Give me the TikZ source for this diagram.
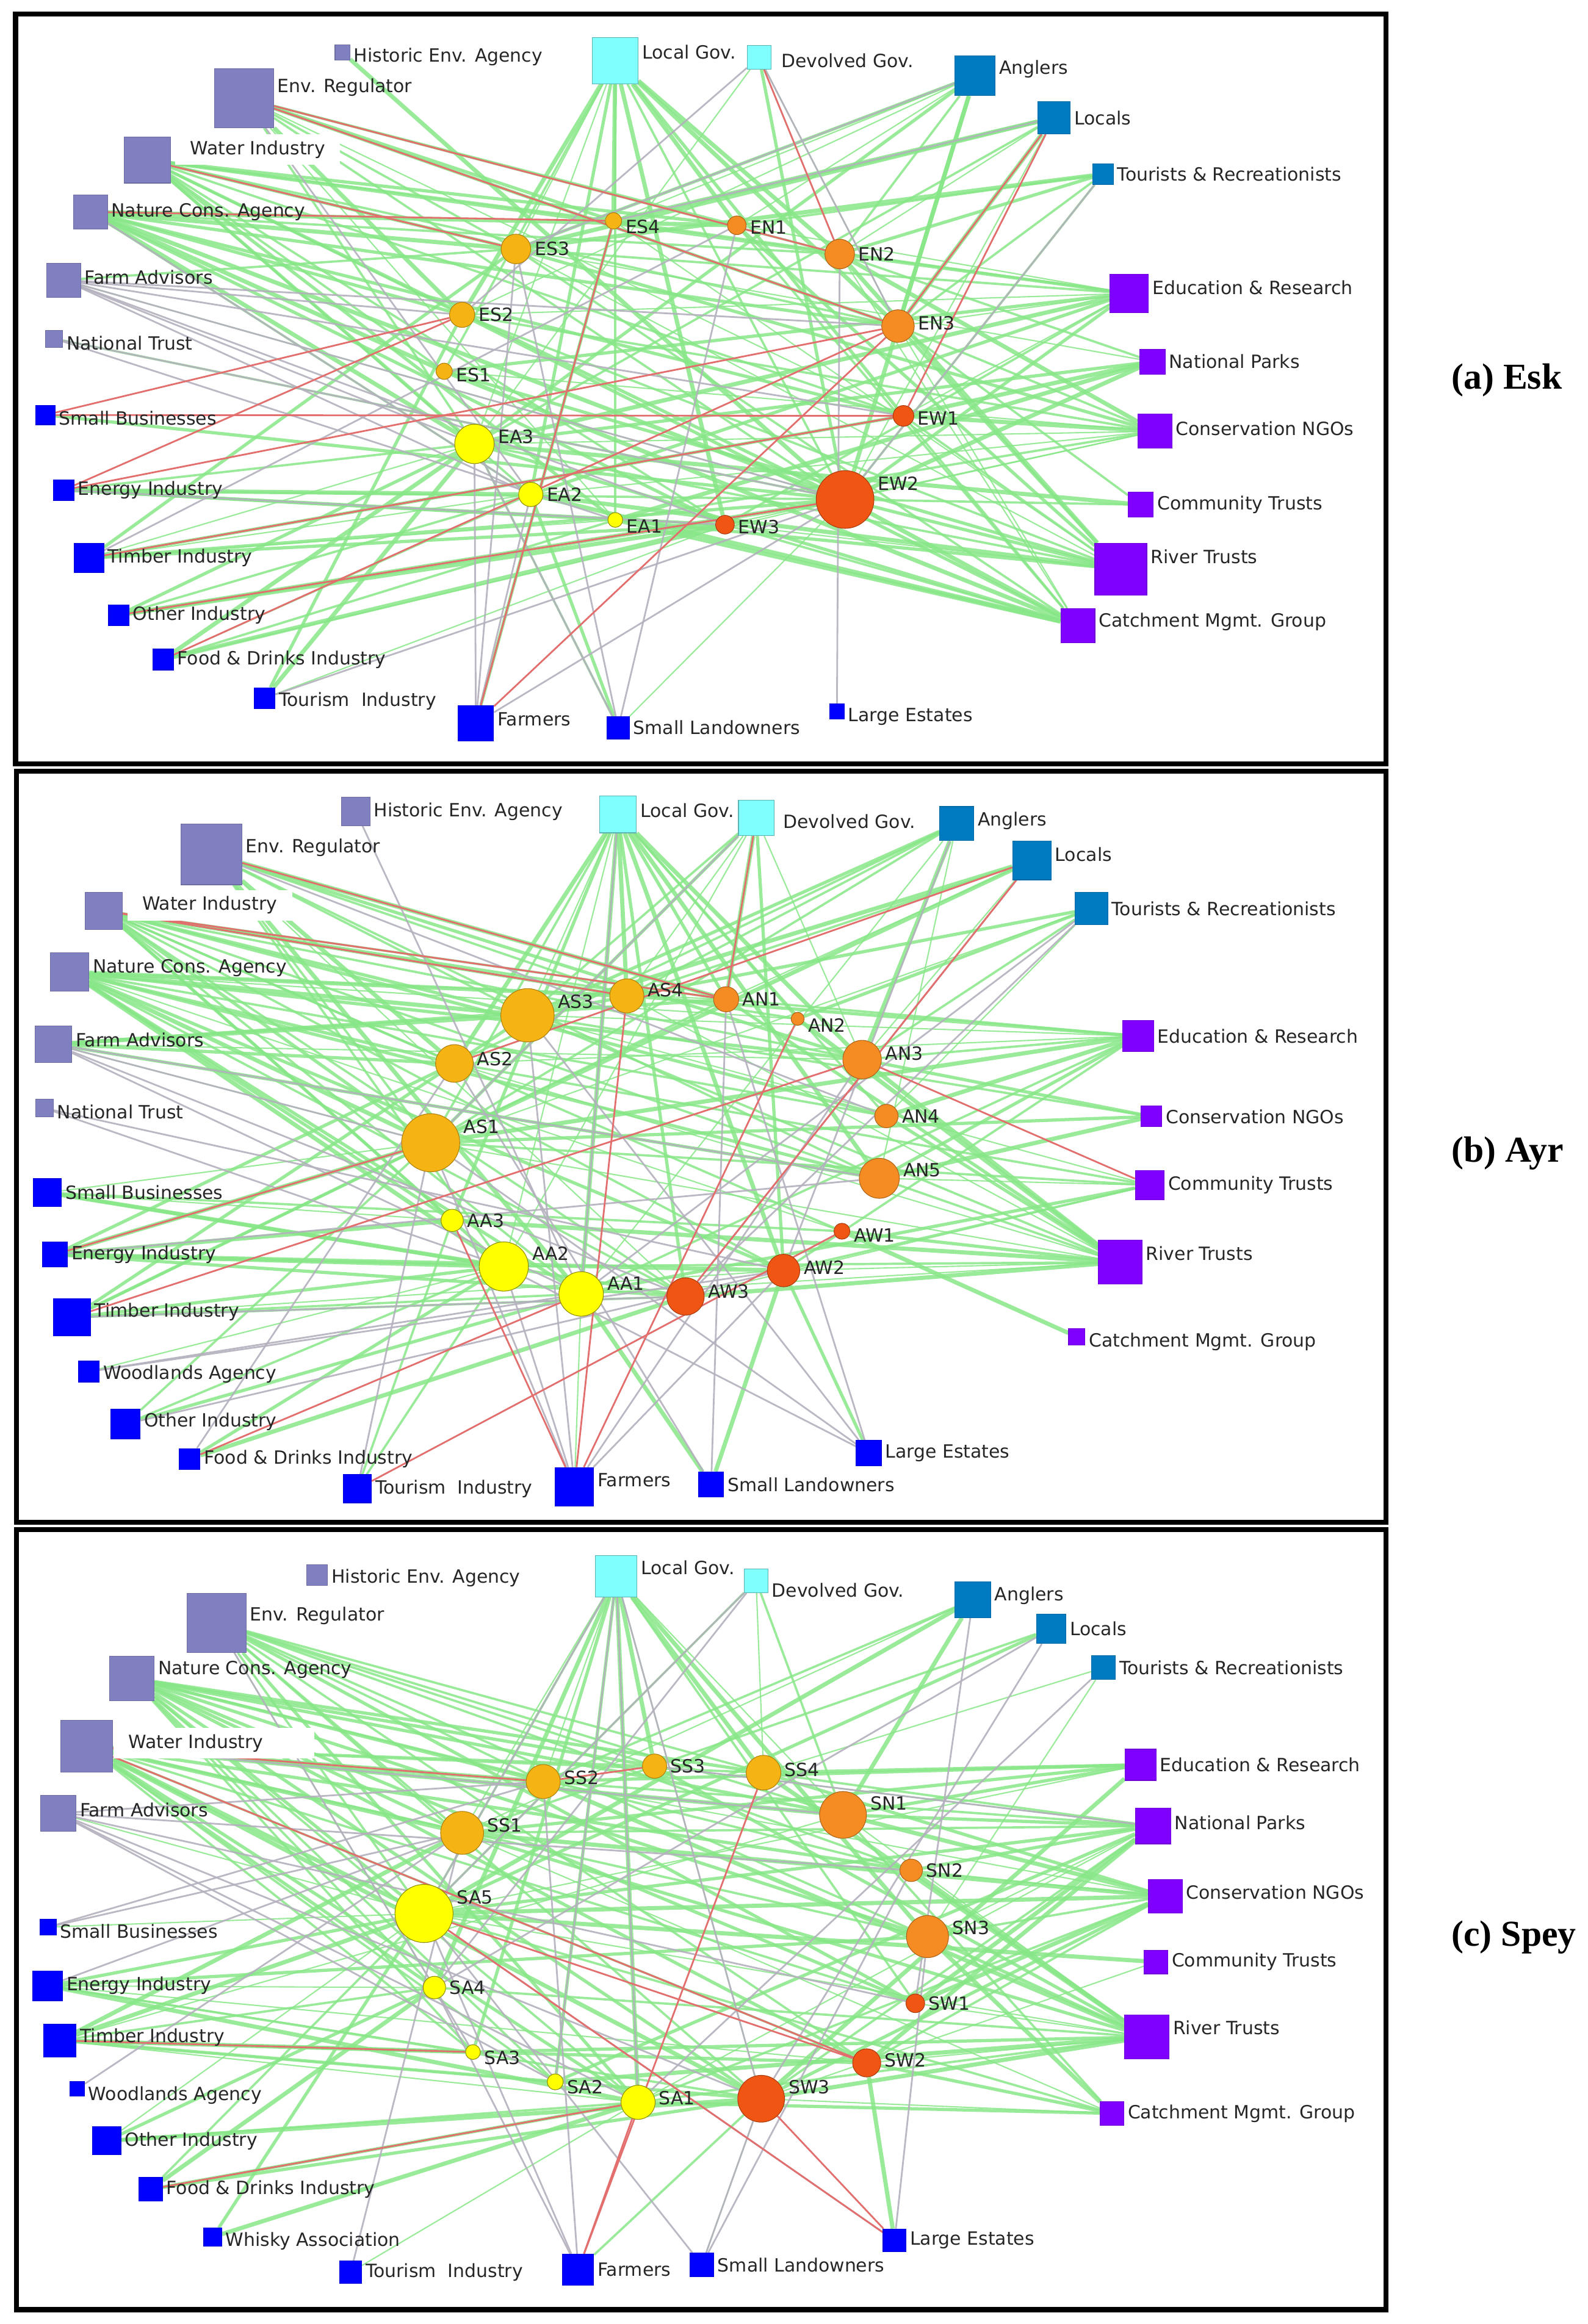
\documentclass[tikz,border=0pt]{standalone}
\usepackage{fontspec}
\setmainfont{Liberation Serif}
\newfontfamily\labelfont{DejaVu Sans}
\usetikzlibrary{backgrounds}
\definecolor{lavc}{RGB}{128,128,192}
\definecolor{bluc}{RGB}{0,0,255}
\definecolor{cync}{RGB}{128,255,255}
\definecolor{stlc}{RGB}{0,122,192}
\definecolor{purc}{RGB}{128,0,255}
\definecolor{ambc}{RGB}{246,180,20}
\definecolor{orgc}{RGB}{245,140,35}
\definecolor{redc}{RGB}{240,85,20}
\definecolor{yelc}{RGB}{255,255,0}
\definecolor{grnc}{RGB}{135,230,135}
\definecolor{gryc}{RGB}{180,176,190}
\definecolor{rdc}{RGB}{226,110,110}
\tikzset{
  sq/.style={rectangle,inner sep=0pt,minimum size=#1*0.24286mm,line width=0.3pt},
  tp/.style={circle,inner sep=0pt,minimum size=#1*0.48572mm,line width=0.3pt},
  lav/.style={fill=lavc,draw=lavc!85!black},
  blu/.style={fill=bluc,draw=bluc!85!black},
  cyn/.style={fill=cync,draw=cync!70!black},
  stl/.style={fill=stlc,draw=stlc!85!black},
  pur/.style={fill=purc,draw=purc!85!black},
  sS/.style={fill=ambc,draw=ambc!70!black},
  sN/.style={fill=orgc,draw=orgc!70!black},
  sW/.style={fill=redc,draw=redc!70!black},
  sA/.style={fill=yelc,draw=yelc!55!black},
  lbl/.style={font=\labelfont\fontsize{8.5}{10}\selectfont,inner sep=1.5pt,text=black!85},
  wlbl/.style={lbl,fill=white,inner xsep=7pt,inner ysep=3pt},
  panel/.style={font=\fontsize{17}{20}\selectfont\bfseries,anchor=west},
  frame/.style={draw=black,line width=2.3pt},
  poslink/.style={draw=grnc,opacity=0.85},
  neulink/.style={draw=gryc,line width=0.8pt,opacity=0.9},
  neglink/.style={draw=rdc,line width=0.8pt}
}
\begin{document}
\begin{tikzpicture}[x=0.24286mm,y=-0.24286mm]
\useasboundingbox (0,0) rectangle (1071,1568);

% frames
\draw[frame] (10.5,9.4) rectangle (934.7,515.4);
\draw[frame] (11.3,520.2) rectangle (934.7,1026.9);
\draw[frame] (11.3,1032.1) rectangle (934.7,1558.3);
\node[panel] (lblA) at (974,256.5) {(a) Esk};
\node[panel] (lblB) at (974,778) {(b) Ayr};
\node[panel] (lblC) at (974,1307) {(c) Spey};

% (a) Esk
\node[sq=10,lav,label={[lbl,yshift=-2pt]right:Historic Env. Agency}] (aHist) at (231,35.4) {};
\node[sq=31,cyn,label={[lbl,yshift=4pt]right:Local Gov.}] (aLocGov) at (415,41) {};
\node[sq=16,cyn,label={[lbl,xshift=3pt,yshift=-1.5pt]right:Devolved Gov.}] (aDevGov) at (512,38.7) {};
\node[sq=27,stl,label={[lbl,yshift=3pt]right:Anglers}] (aAnglers) at (657.7,51) {};
\node[sq=22,stl,label={[lbl]right:Locals}] (aLocals) at (711,79.4) {};
\node[sq=14,stl,label={[lbl]right:Tourists \& Recreationists}] (aTourists) at (744,117.5) {};
\node[sq=40,lav,label={[lbl,yshift=5pt]right:Env. Regulator}] (aEnvReg) at (164.6,66.2) {};
\node[sq=31,lav,label={[wlbl,xshift=2pt,yshift=5pt]right:Water Industry}] (aWater) at (99.4,108) {};
\node[sq=23,lav,label={[lbl]right:Nature Cons. Agency}] (aNature) at (61,143) {};
\node[sq=23,lav,label={[lbl,yshift=1.4pt]right:Farm Advisors}] (aFarmAdv) at (43,189) {};
\node[sq=11.5,lav,label={[lbl,yshift=-2pt]right:National Trust}] (aNatTrust) at (36.5,228.5) {};
\node[sq=13,blu,label={[lbl,yshift=-1.4pt]right:Small Businesses}] (aSmallBus) at (30.6,280) {};
\node[sq=14,blu,label={[lbl]right:Energy Industry}] (aEnergy) at (43,330.6) {};
\node[sq=20,blu,label={[lbl]right:Timber Industry}] (aTimber) at (60,376.5) {};
\node[sq=14,blu,label={[lbl]right:Other Industry}] (aOtherInd) at (80,415) {};
\node[sq=14,blu,label={[lbl]right:Food \& Drinks Industry}] (aFood) at (110,445) {};
\node[sq=14,blu,label={[lbl,yshift=-1.4pt]right:Tourism\ \ Industry}] (aTourInd) at (178.6,471) {};
\node[sq=24,blu,label={[lbl,yshift=2pt]right:Farmers}] (aFarmers) at (321,488) {};
\node[sq=15,blu,label={[lbl]right:Small Landowners}] (aSmallLand) at (417,491) {};
\node[sq=10,blu,label={[lbl,yshift=-2.6pt]right:Large Estates}] (aLargeEst) at (564.5,480) {};
\node[sq=26,pur,label={[lbl,yshift=2.8pt]right:Education \& Research}] (aEduRes) at (761.7,198) {};
\node[sq=17,pur,label={[lbl]right:National Parks}] (aNatParks) at (777.4,244) {};
\node[sq=23,pur,label={[lbl,yshift=1.4pt]right:Conservation NGOs}] (aConsNGO) at (779,291) {};
\node[sq=17,pur,label={[lbl]right:Community Trusts}] (aCommTr) at (769.5,340.5) {};
\node[sq=35,pur,label={[lbl,yshift=5.7pt]right:River Trusts}] (aRivTr) at (756,384) {};
\node[sq=23,pur,label={[lbl,yshift=1.7pt]right:Catchment Mgmt. Group}] (aCatch) at (727,422) {};

\node[tp=5.5,sS,label={[lbl,yshift=-2.8pt]right:ES4}] (ES4) at (413.8,149) {};
\node[tp=10,sS,label={[lbl]right:ES3}] (ES3) at (348,168) {};
\node[tp=8.5,sS,label={[lbl]right:ES2}] (ES2) at (311.7,212.4) {};
\node[tp=5.5,sS,label={[lbl,yshift=-1.7pt]right:ES1}] (ES1) at (299.6,250.5) {};
\node[tp=13.3,sA,label={[lbl,yshift=3.4pt]right:EA3}] (EA3) at (320,299.5) {};
\node[tp=8.2,sA,label={[lbl]right:EA2}] (EA2) at (358,333.6) {};
\node[tp=5,sA,label={[lbl,yshift=-3pt]right:EA1}] (EA1) at (415,350.8) {};
\node[tp=6.3,sN,label={[lbl,yshift=-1pt]right:EN1}] (EN1) at (497,152) {};
\node[tp=10,sN,label={[lbl]right:EN2}] (EN2) at (566.4,171.4) {};
\node[tp=11,sN,label={[lbl,yshift=1.5pt]right:EN3}] (EN3) at (605.7,220) {};
\node[tp=7,sW,label={[lbl,yshift=-1pt]right:EW1}] (EW1) at (609.4,280.6) {};
\node[tp=19.5,sW,label={[lbl,yshift=7.6pt]right:EW2}] (EW2) at (570,337) {};
\node[tp=6.3,sW,label={[lbl,yshift=-1pt]right:EW3}] (EW3) at (489,354) {};

% (b) Ayr
\node[sq=19,lav,label={[lbl]right:Historic Env. Agency}] (bHist) at (240,547.5) {};
\node[sq=25,cyn,label={[lbl,yshift=1.8pt]right:Local Gov.}] (bLocGov) at (416.8,549.4) {};
\node[sq=24,cyn,label={[lbl,xshift=2.5pt,yshift=-1.8pt]right:Devolved Gov.}] (bDevGov) at (510.1,551.8) {};
\node[sq=23,stl,label={[lbl,yshift=1.4pt]right:Anglers}] (bAnglers) at (645.3,555.7) {};
\node[sq=26,stl,label={[lbl,yshift=3pt]right:Locals}] (bLocals) at (696,580.6) {};
\node[sq=22,stl,label={[lbl]right:Tourists \& Recreationists}] (bTourists) at (736.2,613) {};
\node[sq=41,lav,label={[lbl,yshift=3pt]right:Env. Regulator}] (bEnvReg) at (142.7,576.4) {};
\node[sq=25,lav,label={[wlbl,xshift=2pt,yshift=2.6pt]right:Water Industry}] (bWater) at (70,614.5) {};
\node[sq=26,lav,label={[lbl,yshift=1.9pt]right:Nature Cons. Agency}] (bNature) at (47,655.8) {};
\node[sq=25,lav,label={[lbl,yshift=1.9pt]right:Farm Advisors}] (bFarmAdv) at (36,704.5) {};
\node[sq=12,lav,label={[lbl,yshift=-1.8pt]right:National Trust}] (bNatTrust) at (30,747.7) {};
\node[sq=19,blu,label={[lbl]right:Small Businesses}] (bSmallBus) at (32,804.7) {};
\node[sq=17,blu,label={[lbl]right:Energy Industry}] (bEnergy) at (37,846.4) {};
\node[sq=25,blu,label={[lbl,yshift=2.4pt]right:Timber Industry}] (bTimber) at (48.6,888.8) {};
\node[sq=14,blu,label={[lbl,yshift=-1.3pt]right:Woodlands Agency}] (bWood) at (60,925.4) {};
\node[sq=20,blu,label={[lbl,yshift=1.2pt]right:Other Industry}] (bOtherInd) at (84.6,960.8) {};
\node[sq=14,blu,label={[lbl]right:Food \& Drinks Industry}] (bFood) at (128,984.3) {};
\node[sq=19,blu,label={[lbl]right:Tourism\ \ Industry}] (bTourInd) at (241,1004.4) {};
\node[sq=26,blu,label={[lbl,yshift=3.2pt]right:Farmers}] (bFarmers) at (387.5,1003.1) {};
\node[sq=17,blu,label={[lbl]right:Small Landowners}] (bSmallLand) at (479.7,1001.5) {};
\node[sq=17,blu,label={[lbl]right:Large Estates}] (bLargeEst) at (586,980.3) {};
\node[sq=21,pur,label={[lbl]right:Education \& Research}] (bEduRes) at (767.7,699) {};
\node[sq=14,pur,label={[lbl]right:Conservation NGOs}] (bConsNGO) at (776.7,753.3) {};
\node[sq=19.5,pur,label={[lbl]right:Community Trusts}] (bCommTr) at (775.5,799.6) {};
\node[sq=29.5,pur,label={[lbl,yshift=4.1pt]right:River Trusts}] (bRivTr) at (755.6,851.6) {};
\node[sq=11,pur,label={[lbl,yshift=-2.3pt]right:Catchment Mgmt. Group}] (bCatch) at (726.3,901.9) {};

\node[tp=18,sS,label={[lbl,yshift=6.3pt]right:AS3}] (AS3) at (355.8,685) {};
\node[tp=11.5,sS,label={[lbl,yshift=2.8pt]right:AS4}] (AS4) at (422.8,671.9) {};
\node[tp=12.7,sS,label={[lbl,yshift=2pt]right:AS2}] (AS2) at (306.5,717.5) {};
\node[tp=19.6,sS,label={[lbl,yshift=7.5pt]right:AS1}] (AS1) at (290.5,771) {};
\node[tp=7.5,sA,label={[lbl]right:AA3}] (AA3) at (305,823.4) {};
\node[tp=16.6,sA,label={[lbl,yshift=6pt]right:AA2}] (AA2) at (339.8,854.5) {};
\node[tp=15,sA,label={[lbl,yshift=5pt]right:AA1}] (AA1) at (392,873) {};
\node[tp=8.5,sN,label={[lbl]right:AN1}] (AN1) at (489.8,674.2) {};
\node[tp=4.4,sN,label={[lbl,yshift=-3pt]right:AN2}] (AN2) at (538,687.4) {};
\node[tp=13,sN,label={[lbl,yshift=2.8pt]right:AN3}] (AN3) at (581.5,714.9) {};
\node[tp=7.9,sN,label={[lbl]right:AN4}] (AN4) at (597.9,753) {};
\node[tp=13.5,sN,label={[lbl,yshift=3.9pt]right:AN5}] (AN5) at (593.1,795) {};
\node[tp=5.4,sW,label={[lbl,yshift=-1.9pt]right:AW1}] (AW1) at (567.9,830.7) {};
\node[tp=11,sW,label={[lbl,yshift=1.5pt]right:AW2}] (AW2) at (528.5,857.2) {};
\node[tp=12.6,sW,label={[lbl,yshift=2.3pt]right:AW3}] (AW3) at (462.4,874.7) {};

% (c) Spey
\node[sq=14,lav,label={[lbl,yshift=-1.2pt]right:Historic Env. Agency}] (cHist) at (214,1062.7) {};
\node[sq=28,cyn,label={[lbl,yshift=4pt]right:Local Gov.}] (cLocGov) at (415.7,1063.4) {};
\node[sq=16,cyn,label={[lbl,yshift=-4.5pt]right:Devolved Gov.}] (cDevGov) at (510,1066.5) {};
\node[sq=24,stl,label={[lbl,yshift=1.9pt]right:Anglers}] (cAnglers) at (656.2,1079.3) {};
\node[sq=20,stl,label={[lbl]right:Locals}] (cLocals) at (709,1098.9) {};
\node[sq=16,stl,label={[lbl]right:Tourists \& Recreationists}] (cTourists) at (744.4,1125.2) {};
\node[sq=40,lav,label={[lbl,yshift=3.4pt]right:Env. Regulator}] (cEnvReg) at (146,1094.9) {};
\node[sq=30,lav,label={[lbl,yshift=4pt]right:Nature Cons. Agency}] (cNature) at (89,1132.3) {};
\node[sq=35,lav,label={[wlbl,yshift=1.4pt,text width=2.8cm]right:Water Industry}] (cWater) at (58.5,1178.1) {};
\node[sq=24,lav,label={[lbl,yshift=1.6pt]right:Farm Advisors}] (cFarmAdv) at (39.3,1223.4) {};
\node[sq=11,blu,label={[lbl,yshift=-2pt]right:Small Businesses}] (cSmallBus) at (32.4,1300.2) {};
\node[sq=20,blu,label={[lbl]right:Energy Industry}] (cEnergy) at (32.2,1339.8) {};
\node[sq=22,blu,label={[lbl,yshift=1.5pt]right:Timber Industry}] (cTimber) at (40.4,1376.7) {};
\node[sq=10,blu,label={[lbl,yshift=-3pt]right:Woodlands Agency}] (cWood) at (52,1409.4) {};
\node[sq=19,blu,label={[lbl]right:Other Industry}] (cOtherInd) at (72,1444.4) {};
\node[sq=16,blu,label={[lbl]right:Food \& Drinks Industry}] (cFood) at (101.6,1477) {};
\node[sq=12,blu,label={[lbl,yshift=-1.9pt]right:Whisky Association}] (cWhisky) at (143.5,1509.3) {};
\node[sq=15,blu,label={[lbl]right:Tourism\ \ Industry}] (cTourInd) at (236.5,1533) {};
\node[sq=21,blu,label={[lbl]right:Farmers}] (cFarmers) at (390,1531.3) {};
\node[sq=16,blu,label={[lbl]right:Small Landowners}] (cSmallLand) at (473.4,1528) {};
\node[sq=15.5,blu,label={[lbl]right:Large Estates}] (cLargeEst) at (603.4,1511.6) {};
\node[sq=21,pur,label={[lbl]right:Education \& Research}] (cEduRes) at (769.2,1190.7) {};
\node[sq=24,pur,label={[lbl,yshift=1.6pt]right:National Parks}] (cNatParks) at (777.7,1232) {};
\node[sq=23,pur,label={[lbl,yshift=2pt]right:Conservation NGOs}] (cConsNGO) at (785.9,1279.4) {};
\node[sq=16,pur,label={[lbl]right:Community Trusts}] (cCommTr) at (779.7,1323.7) {};
\node[sq=30,pur,label={[lbl,yshift=4.2pt]right:River Trusts}] (cRivTr) at (773.6,1374.3) {};
\node[sq=16,pur,label={[lbl]right:Catchment Mgmt. Group}] (cCatch) at (750.1,1425.9) {};

\node[tp=11.5,sS,label={[lbl,yshift=1.7pt]right:SS2}] (SS2) at (366.4,1202) {};
\node[tp=8.2,sS,label={[lbl]right:SS3}] (SS3) at (441.5,1191.6) {};
\node[tp=11.7,sS,label={[lbl,yshift=1.4pt]right:SS4}] (SS4) at (515,1196) {};
\node[tp=14.5,sS,label={[lbl,yshift=3.6pt]right:SS1}] (SS1) at (311.7,1236.6) {};
\node[tp=19.6,sA,label={[lbl,yshift=7.6pt]right:SA5}] (SA5) at (286,1291) {};
\node[tp=7.6,sA,label={[lbl]right:SA4}] (SA4) at (293,1341) {};
\node[tp=5,sA,label={[lbl,yshift=-2.6pt]right:SA3}] (SA3) at (319,1384.5) {};
\node[tp=5.4,sA,label={[lbl,yshift=-2.3pt]right:SA2}] (SA2) at (374.5,1404.6) {};
\node[tp=11.5,sA,label={[lbl,yshift=1.9pt]right:SA1}] (SA1) at (430.4,1418.4) {};
\node[tp=15.8,sN,label={[lbl,yshift=5.3pt]right:SN1}] (SN1) at (568.6,1224.5) {};
\node[tp=7.6,sN,label={[lbl]right:SN2}] (SN2) at (614.6,1261.9) {};
\node[tp=14.2,sN,label={[lbl,yshift=4pt]right:SN3}] (SN3) at (625.6,1306.6) {};
\node[tp=6.3,sW,label={[lbl]right:SW1}] (SW1) at (617.4,1351.6) {};
\node[tp=9.5,sW,label={[lbl,yshift=1.2pt]right:SW2}] (SW2) at (584.6,1391.8) {};
\node[tp=15.8,sW,label={[lbl,yshift=5.5pt]right:SW3}] (SW3) at (513.4,1416) {};

% ties
\begin{scope}[on background layer]
\foreach \tp/\lst in {
  EW2/{aEnvReg,aWater,aNature,aFarmAdv,aEnergy,aTimber,aOtherInd,aFood,aLocGov,aDevGov,aAnglers,aLocals,aTourists,aEduRes,aNatParks,aConsNGO,aCommTr,aRivTr,aCatch,aSmallLand,aNatTrust,aSmallBus,aHist},
  EA3/{aEnvReg,aWater,aNature,aTimber,aEnergy,aOtherInd,aFood,aLocGov,aRivTr,aCatch,aEduRes,aConsNGO,aSmallLand,aAnglers,aTourInd,aDevGov,aLocals,aNatParks,aCommTr},
  ES3/{aEnvReg,aWater,aNature,aLocGov,aEduRes,aAnglers,aLocals,aRivTr,aFarmAdv,aConsNGO,aTourists,aNatParks,aCatch,aTimber},
  EN2/{aEnvReg,aWater,aLocGov,aDevGov,aAnglers,aEduRes,aRivTr,aLocals,aNature,aTourists,aConsNGO,aCatch,aNatParks},
  EN3/{aWater,aNature,aLocGov,aEduRes,aConsNGO,aRivTr,aAnglers,aCatch,aTourists,aEnvReg,aLocals,aDevGov,aCommTr},
  EW3/{aWater,aNature,aLocGov,aRivTr,aCatch,aTimber,aFood,aTourInd,aEduRes,aEnergy,aOtherInd,aConsNGO},
  EA2/{aWater,aLocGov,aRivTr,aTimber,aOtherInd,aSmallLand,aEnergy,aConsNGO,aNature,aEduRes,aCatch,aFood},
  EA1/{aLocGov,aRivTr,aCatch,aTimber,aFood,aWater,aNatParks,aEnvReg,aConsNGO,aEnergy},
  ES2/{aWater,aNature,aLocGov,aEduRes,aRivTr,aTourInd,aEnvReg,aAnglers,aConsNGO,aCatch},
  ES1/{aLocGov,aRivTr,aNature,aConsNGO,aWater,aEduRes,aCatch},
  ES4/{aWater,aEnvReg,aLocGov,aAnglers,aEduRes,aFarmers,aLocals,aRivTr},
  EN1/{aEnvReg,aWater,aLocGov,aAnglers,aTourists,aRivTr,aNature,aEduRes,aCatch},
  EW1/{aWater,aNature,aConsNGO,aEduRes,aRivTr,aLocGov,aNatParks,aEnvReg,aCatch,aTimber},
  AS1/{bEnvReg,bWater,bNature,bFarmAdv,bLocGov,bDevGov,bEduRes,bRivTr,bCommTr,bTimber,bEnergy,bSmallBus,bAnglers,bConsNGO,bLocals,bTourists,bOtherInd},
  AS3/{bEnvReg,bWater,bNature,bLocGov,bDevGov,bAnglers,bLocals,bEduRes,bRivTr,bTourists,bFarmAdv,bCommTr,bConsNGO,bTimber},
  AS2/{bWater,bNature,bLocGov,bRivTr,bCommTr,bFarmAdv,bEnvReg,bEduRes,bAnglers,bEnergy},
  AS4/{bEnvReg,bWater,bLocGov,bDevGov,bAnglers,bEduRes,bNature,bRivTr,bLocals},
  AN1/{bWater,bLocGov,bDevGov,bLocals,bEduRes,bRivTr,bEnvReg,bNature,bTimber,bFarmAdv},
  AN2/{bLocGov,bTourists,bRivTr,bNature,bWater},
  AN3/{bWater,bNature,bLocGov,bDevGov,bEduRes,bConsNGO,bRivTr,bLocals,bTourists,bEnvReg,bAnglers,bFarmAdv},
  AN4/{bLocGov,bRivTr,bEduRes,bTourists,bNature,bWater},
  AN5/{bWater,bNature,bLocGov,bCommTr,bRivTr,bEduRes,bConsNGO,bAnglers,bEnvReg,bFarmAdv},
  AW1/{bWater,bRivTr,bCatch,bNature,bSmallBus},
  AW2/{bWater,bNature,bLocGov,bRivTr,bCommTr,bLargeEst,bSmallLand,bTimber,bEduRes,bDevGov,bEnergy},
  AW3/{bWater,bLocGov,bRivTr,bEnvReg,bTimber,bEnergy,bFood,bCommTr,bNature,bSmallBus},
  AA1/{bWater,bNature,bLocGov,bRivTr,bTimber,bOtherInd,bSmallLand,bFarmers,bEduRes,bCommTr,bEnvReg,bAnglers},
  AA2/{bEnvReg,bWater,bNature,bLocGov,bRivTr,bTimber,bEnergy,bWood,bOtherInd,bFood,bSmallBus,bDevGov,bTourInd},
  AA3/{bWater,bLocGov,bEnergy,bSmallBus,bTourInd,bNature,bRivTr},
  SA5/{cEnvReg,cNature,cWater,cFarmAdv,cLocGov,cNatParks,cConsNGO,cRivTr,cCatch,cEnergy,cTimber,cOtherInd,cFood,cWhisky,cAnglers,cEduRes,cDevGov,cLocals,cCommTr,cSmallBus},
  SS1/{cEnvReg,cNature,cWater,cLocGov,cNatParks,cRivTr,cConsNGO,cAnglers,cLocals,cEduRes,cTimber,cCatch},
  SS2/{cEnvReg,cNature,cWater,cLocGov,cNatParks,cEduRes,cRivTr,cConsNGO,cAnglers},
  SS3/{cEnvReg,cNature,cLocGov,cNatParks,cWater,cRivTr},
  SS4/{cEnvReg,cNature,cLocGov,cDevGov,cNatParks,cConsNGO,cRivTr,cTourists,cWater,cEduRes},
  SN1/{cEnvReg,cNature,cWater,cLocGov,cDevGov,cNatParks,cConsNGO,cRivTr,cCatch,cEduRes,cAnglers,cTimber},
  SN2/{cNature,cNatParks,cRivTr,cConsNGO,cEnvReg,cWater},
  SN3/{cEnvReg,cNature,cLocGov,cNatParks,cConsNGO,cRivTr,cCatch,cTourists,cWater,cEnergy},
  SW1/{cWater,cNature,cNatParks,cRivTr,cLocGov,cEnvReg,cConsNGO},
  SW2/{cWater,cNature,cNatParks,cRivTr,cConsNGO,cCatch,cLargeEst,cEnergy,cEnvReg,cTimber},
  SW3/{cEnvReg,cNature,cWater,cLocGov,cNatParks,cConsNGO,cRivTr,cCatch,cEnergy,cTimber,cOtherInd,cSmallLand,cFarmers,cFood,cEduRes,cCommTr},
  SA1/{cNature,cWater,cLocGov,cNatParks,cRivTr,cCatch,cEnergy,cTimber,cOtherInd,cFood,cWhisky,cTourInd,cConsNGO,cEnvReg},
  SA2/{cNature,cLocGov,cRivTr,cTimber,cWater,cNatParks},
  SA3/{cNature,cLocGov,cTimber,cEnergy,cWater,cRivTr},
  SA4/{cNature,cWater,cLocGov,cEnergy,cTimber,cOtherInd,cFood,cEnvReg,cRivTr}}
  \foreach \st [count=\k] in \lst
    \draw[poslink,line width={0.6pt+0.45pt*mod(\k,4)}] (\tp) -- (\st);

\foreach \i/\j in {aLargeEst/EN2,aFarmAdv/EA3,aFarmAdv/EA2,aFarmAdv/EW3,aFarmAdv/EN3,aNatTrust/EA1,
  aNature/EA2,aFarmers/ES3,aFarmers/EA3,aFarmers/EW2,aSmallLand/ES3,aSmallLand/EA3,aDevGov/ES2,
  aDevGov/EN3,aAnglers/ES3,aLocals/ES4,aTourists/EW2,aTourInd/EW2,aFarmAdv/EW1,aEnvReg/EA2,
  aFarmAdv/EW2,aFarmAdv/ES2,aNatTrust/EW2,aFarmers/EA2,aSmallLand/EN1,aTimber/EN1,aEnergy/EW3,
  bFarmAdv/AA1,bFarmAdv/AW3,bFarmAdv/AS1,bNatTrust/AA2,bFarmers/AS3,bFarmers/AN3,bFarmers/AW2,
  bFarmers/AS1,bFarmers/AA2,bLargeEst/AS1,bLargeEst/AA2,bLargeEst/AN1,bAnglers/AW2,bLocals/AW3,
  bTourists/AA1,bHist/AA1,bEnvReg/AN4,bWood/AW2,bTimber/AW3,bEnergy/AN5,bOtherInd/AW2,bFood/AS2,
  bSmallLand/AS2,bTourInd/AS1,bLocGov/AA1,bDevGov/AS1,bFarmAdv/AN5,bNatTrust/AW2,bWood/AA1,
  bSmallLand/AN1,bLargeEst/AS3,bTourists/AW3,
  cFarmAdv/SA1,cFarmAdv/SW3,cFarmAdv/SS2,cFarmAdv/SA2,cWater/SN1,cSmallBus/SS1,cSmallBus/SS2,
  cEnergy/SS1,cEnvReg/SA3,cLocGov/SA5,cLocGov/SW3,cLocGov/SA2,cDevGov/SA5,cDevGov/SA4,cAnglers/SW1,
  cLocals/SW3,cTourists/SA1,cNatParks/SS3,cFarmers/SA5,cFarmers/SA4,cFarmers/SS2,cSmallLand/SW3,
  cSmallLand/SN2,cLargeEst/SA5,cLargeEst/SN3,cTourInd/SS1,cFarmAdv/SN2,cFarmAdv/SW1,cLocGov/SA1,
  cWood/SS1,cLocals/SA4,cSmallLand/SA5}
  \draw[neulink] (\i) -- (\j);

\foreach \i/\j in {aEnvReg/EN2,aEnvReg/EN3,aWater/ES3,aSmallBus/EW1,aSmallBus/ES2,aEnergy/EN3,
  aTimber/EW1,aOtherInd/EW2,aFood/EN3,aFarmers/ES4,aFarmers/EN3,aDevGov/EN2,aLocals/EW1,aLocals/EN3,
  aNature/ES4,aEnergy/ES2,
  bEnvReg/AN1,bWater/AS4,bFarmers/AN2,bFarmers/AS4,bFarmers/AA3,bCommTr/AN3,bLocals/AS2,bLocals/AW3,
  bEnergy/AS1,bTimber/AN3,bTourInd/AW1,bFood/AA1,bDevGov/AN1,bWater/AN1,
  cWater/SW2,cWater/SS2,cTimber/SA3,cFood/SA1,cFarmers/SS4,cFarmers/SA1,cLargeEst/SW3,cLargeEst/SA5,
  SA5/SW2,SS2/SS3}
  \draw[neglink] (\i) -- (\j);
\end{scope}
\end{tikzpicture}
\end{document}
